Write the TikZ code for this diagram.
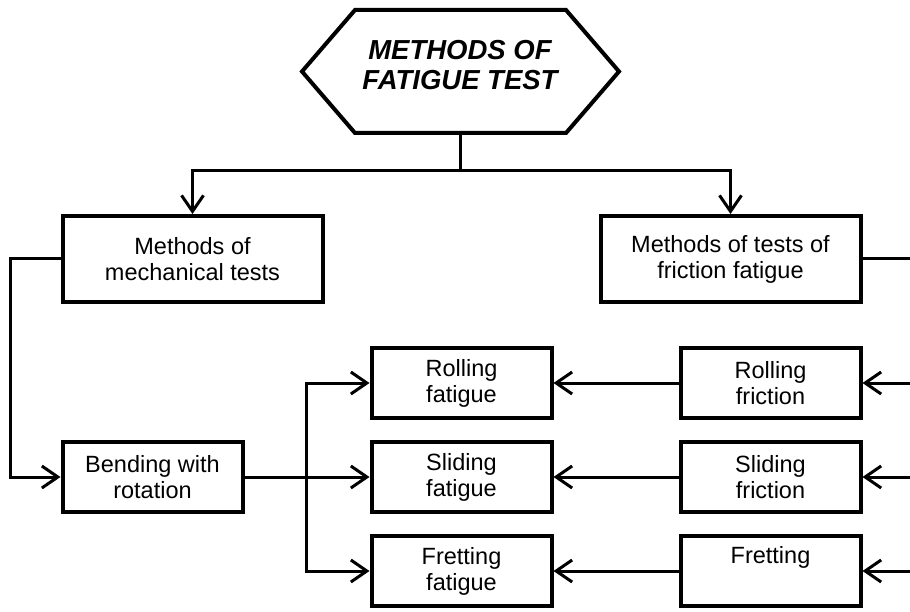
\documentclass[tikz,border=0pt]{standalone}
\usepackage{fontspec}
\setmainfont{Liberation Sans}
\usetikzlibrary{arrows.meta,positioning,calc}

\begin{document}
\begin{tikzpicture}[
  x=1pt,y=1pt,
  node distance=20pt and 125pt,
  box/.style={draw=black,fill=white,line width=4pt,
              minimum width=180pt,minimum height=70pt,align=center,
              inner sep=2pt,font=\fontsize{23.5}{26}\selectfont},
  widebox/.style={box,minimum width=260pt,minimum height=86pt},
  headline/.style={align=center,inner sep=0pt,
              font=\fontsize{27.5}{30}\selectfont\bfseries\itshape},
  hexline/.style={draw=black,fill=white,line width=4pt,line join=miter},
  link/.style={line width=3pt},
  arr/.style={link,-{Straight Barb[length=16pt,width=22pt]}}]

  \useasboundingbox (0,0) rectangle (910,-612);

  % hexagon of the title
  \coordinate (hexc) at (460,-71.5);
  \draw[hexline] (hexc) ++(-158,0) -- ++(53,61.5) -- ++(211,0)
    -- ++(53,-61.5) -- ++(-53,-61.5) -- ++(-211,0) -- cycle;
  \node[headline] (title) at (460,-65) {METHODS OF\\FATIGUE TEST};
  \coordinate (hexbot) at ($(hexc)+(0,-61.5pt)$);

  \node[widebox] (mech) at (192.5,-259) {Methods of\\mechanical tests};
  \node[widebox] (frictest) at (730.5,-259) {Methods of tests of\\friction fatigue};

  \node[box] (rollfat) at (461.5,-383) {Rolling\\fatigue};
  \node[box,below=of rollfat] (slidfat) {Sliding\\fatigue};
  \node[box,below=of slidfat] (fretfat) {Fretting\\fatigue};
  \node[box,right=of rollfat] (rollfr) {Rolling\\friction};
  \node[box,below=of rollfr] (slidfr) {Sliding\\friction};
  \node[box,below=of slidfr] (fretfr) {\strut Fretting\\\strut};
  \node[box,left=of slidfat] (bend) {Bending with\\rotation};

  % branch points
  \coordinate (split) at ($(hexbot)+(0,-38pt)$);
  \coordinate (fork) at ($(bend.east)+(62pt,0)$);
  \coordinate (rail) at ($(frictest.east)+(56pt,0)$);

  \draw[link] (hexbot) -- (split);
  \draw[arr] (split) -| (mech.north);
  \draw[arr] (split) -| (frictest.north);

  \draw[arr] (mech.west) -- ++(-50pt,0) |- (bend.west);
  \draw[arr] (bend) -- (slidfat);
  \draw[arr] (fork) |- (rollfat.west);
  \draw[arr] (fork) |- (fretfat.west);

  \draw[link] (frictest.east) -- (rail) |- ($(fretfr.east)+(56pt,0)$);
  \draw[arr] (rail |- rollfr.east) -- (rollfr.east);
  \draw[arr] (rail |- slidfr.east) -- (slidfr.east);
  \draw[arr] (rail |- fretfr.east) -- (fretfr.east);

  \draw[arr] (rollfr) -- (rollfat);
  \draw[arr] (slidfr) -- (slidfat);
  \draw[arr] (fretfr) -- (fretfat);
\end{tikzpicture}
\end{document}
